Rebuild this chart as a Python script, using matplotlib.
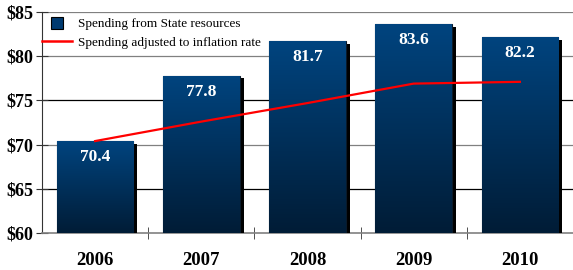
import numpy as np
import matplotlib
matplotlib.use("Agg")
from matplotlib import pyplot as plt
import matplotlib.patheffects as pe
from matplotlib.lines import Line2D

years = ["2006", "2007", "2008", "2009", "2010"]
spending = [70.4, 77.8, 81.7, 83.6, 82.2]
adjusted = [70.4, 72.6, 74.7, 76.9, 77.1]
yticks = [60, 65, 70, 75, 80, 85]

plt.rcParams['font.family'] = ['Liberation Serif', 'DejaVu Serif']

fig = plt.figure(figsize=(5.73, 2.70), dpi=100)
ax = fig.add_axes([0.0733, 0.137, 0.9267, 0.8186])

x = np.arange(len(years))
bars = ax.bar(x, [v - 60 for v in spending], bottom=60, width=0.72,
              color="#003a70", edgecolor="#0a1a2a", linewidth=0.8, zorder=3,
              path_effects=[pe.SimplePatchShadow(offset=(3, -2), shadow_rgbFace="black", alpha=1.0), pe.Normal()])

# vertical gradient inside each bar
grad = np.linspace(0, 1, 256).reshape(-1, 1)
cmap = matplotlib.colors.LinearSegmentedColormap.from_list("g", ["#001c36", "#00447f"])
for b in bars:
    x0, y0 = b.get_x(), b.get_y()
    im = ax.imshow(grad, cmap=cmap, aspect="auto", origin="lower",
                   extent=[x0, x0 + b.get_width(), y0, y0 + b.get_height()], zorder=3.5)
    im.set_clip_path(b)

for xi, v in zip(x, spending):
    ax.text(xi, v - 0.9, f"{v:.1f}", ha="center", va="top", color="white",
            fontsize=12.5, fontweight="bold", zorder=5)

ax.plot(x, adjusted, color="#ff0000", linewidth=1.6, zorder=6)

ax.set_xlim(-0.5, len(years) - 0.5)
ax.set_ylim(60, 85)
ax.set_yticks(yticks)
ax.set_yticklabels([f"${t}" for t in yticks], fontsize=13, fontweight="bold")
ax.set_xticks(x)
ax.set_xticklabels(years, fontsize=13.5, fontweight="bold")
ax.tick_params(axis="x", length=0, pad=14)
ax.set_xticks(np.arange(0.5, len(years) - 1, 1), minor=True)
ax.tick_params(axis="x", which="minor", direction="inout", length=8, color="#333333")
ax.tick_params(axis="y", direction="inout", length=8, color="#333333", pad=2)

for t in yticks[1:]:
    col = "black" if t in (65, 75) else "#808080"
    ax.axhline(t, color=col, linewidth=0.9, zorder=1)

for s in ["top", "right"]:
    ax.spines[s].set_visible(False)
ax.spines["left"].set_color("#333333")
ax.spines["bottom"].set_color("#808080")
ax.spines["bottom"].set_linewidth(1.2)

handles = [Line2D([0], [0], linestyle="none", marker="s", markersize=8.5,
                  markerfacecolor="#003a70", markeredgecolor="black", markeredgewidth=0.8),
           Line2D([0], [0], color="#ff0000", linewidth=1.8)]
fig.legend(handles, ["Spending from State resources", "Spending adjusted to inflation rate"],
           loc="upper left", bbox_to_anchor=(42 / 573, 1 - 18 / 270), frameon=False, fontsize=9.5,
           handlelength=2.3, handletextpad=0.45, labelspacing=0.5, borderpad=0, borderaxespad=0)

fig.savefig("out.png", dpi=100)
